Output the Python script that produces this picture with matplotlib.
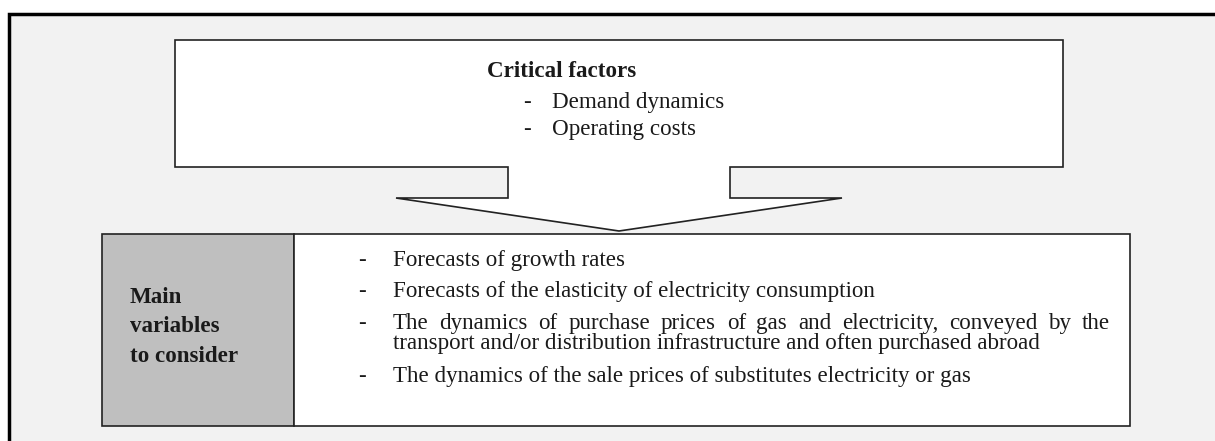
#!/usr/bin/env python3
"""Diagram: critical factors -> main variables to consider."""

import matplotlib
matplotlib.use("Agg")
import matplotlib.pyplot as plt
from matplotlib.patches import Polygon, Rectangle

W, H = 1215, 441

header_title = "Critical factors"
header_items = ["Demand dynamics", "Operating costs"]
side_label = ["Main", "variables", "to consider"]
variables = [
    ["Forecasts of growth rates"],
    ["Forecasts of the elasticity of electricity consumption"],
    ["The dynamics of purchase prices of gas and electricity, conveyed by the",
     "transport and/or distribution infrastructure and often purchased abroad"],
    ["The dynamics of the sale prices of substitutes electricity or gas"],
]

FONT = "Liberation Serif"
FS = 16.6
INK = "#1a1a1a"

fig = plt.figure(figsize=(W / 100, H / 100), dpi=100)
ax = fig.add_axes([0, 0, 1, 1])
ax.set_xlim(0, W)
ax.set_ylim(H, 0)
ax.axis("off")

# outer panel
ax.add_patch(Rectangle((9, 14), W, H, facecolor="#f2f2f2", edgecolor="black", lw=2.5))

# top box with down-arrow callout
box_l, box_r, box_t, box_b = 175, 1063, 40, 167
shaft_l, shaft_r, head_y = 508, 730, 198
head_l, head_r, tip = (396, head_y), (842, head_y), (619, 231)
outline = [
    (box_l, box_t), (box_r, box_t), (box_r, box_b), (shaft_r, box_b),
    (shaft_r, head_y), head_r, tip, head_l, (shaft_l, head_y),
    (shaft_l, box_b), (box_l, box_b),
]
ax.add_patch(Polygon(outline, closed=True, facecolor="white", edgecolor="#222222", lw=1.2))


def put(x, y, s, **kw):
    return ax.text(x, y, s, fontsize=FS, family=FONT, color=INK, va="baseline", **kw)


put(487, 77, header_title, fontweight="bold")
for i, item in enumerate(header_items):
    y = 108 + i * 27
    put(523, y, "-")
    put(552, y, item)

# bottom table
tab_l, tab_div, tab_r, tab_t, tab_b = 102, 294, 1130, 234, 426
ax.add_patch(Rectangle((tab_l, tab_t), tab_div - tab_l, tab_b - tab_t,
                       facecolor="#bfbfbf", edgecolor="#222222", lw=1.2))
ax.add_patch(Rectangle((tab_div, tab_t), tab_r - tab_div, tab_b - tab_t,
                       facecolor="white", edgecolor="#222222", lw=1.2))

for i, word in enumerate(side_label):
    put(130, 303 + i * 29.5, word, fontweight="bold")

renderer = fig.canvas.get_renderer()


def justified(words, x0, x1, y):
    arts = [put(0, y, w) for w in words]
    widths = [a.get_window_extent(renderer).width for a in arts]
    gap = (x1 - x0 - sum(widths)) / (len(words) - 1)
    x = x0
    for a, w in zip(arts, widths):
        a.set_x(x)
        x += w + gap


text_x, just_r = 393, 1110
baselines = [266, 297, 329, 382]
for item, y in zip(variables, baselines):
    put(358, y, "-")
    for j, line in enumerate(item):
        if j < len(item) - 1:
            justified(line.split(), text_x, just_r, y)
            y += 20
        else:
            put(text_x, y, line)

fig.savefig("out.png", dpi=100)
